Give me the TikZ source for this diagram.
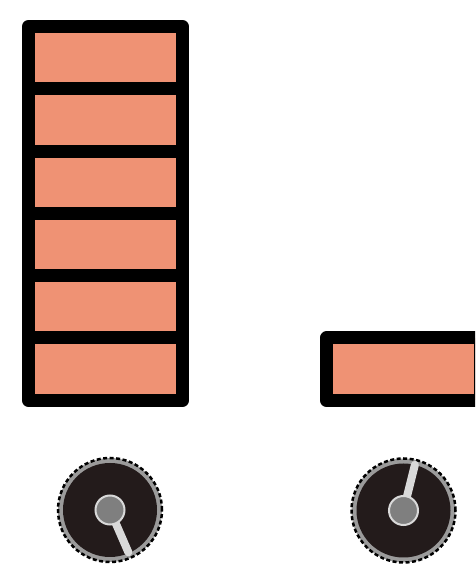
\documentclass[tikz,border=0pt]{standalone}
\usetikzlibrary{positioning}
\definecolor{brick}{HTML}{EF9274}
\definecolor{dialface}{HTML}{231B1B}
\definecolor{dialring}{HTML}{9B9B9B}
\definecolor{hubgray}{HTML}{7F7F7F}
\definecolor{handgray}{HTML}{D9D9D9}
\begin{document}
\begin{tikzpicture}[x=1pt, y=1pt,
    cell/.style={draw=black, fill=brick, line width=13pt, line join=round,
      inner sep=0pt, outer sep=0pt, minimum width=154pt, minimum height=62.3pt},
    ring/.style={circle, fill=dialring, draw=black, line width=2.5pt,
      dash pattern=on 4pt off 2.5pt, inner sep=0pt, minimum size=104pt},
    face/.style={circle, fill=dialface, inner sep=0pt, minimum size=94pt},
    hand/.style={draw=handgray, line width=8pt, line cap=round},
    hub/.style={circle, fill=hubgray, draw=handgray, line width=2pt,
      inner sep=0pt, minimum size=29pt}]
  \clip (0,0) rectangle (475,565);
  % stack of cells
  \node[cell] (cell1) at (105.5,507.35) {};
  \foreach \i [count=\j from 1] in {2,...,6}
    \node[cell, below=0pt of cell\j] (cell\i) {};
  % single cell on the right
  \node[cell, right=144pt of cell6] (single) {};
  % left knob
  \node[ring] (knobA) at (110,55) {};
  \node[face] at (knobA) {};
  \draw[hand] (knobA.center) -- ++(-66.5:46);
  \node[hub] (hubA) at (knobA) {};
  % right knob
  \node[ring] (knobB) at (403.5,54.5) {};
  \node[face] at (knobB) {};
  \draw[hand] (knobB.center) -- ++(76:47);
  \node[hub] (hubB) at (knobB) {};
\end{tikzpicture}
\end{document}
